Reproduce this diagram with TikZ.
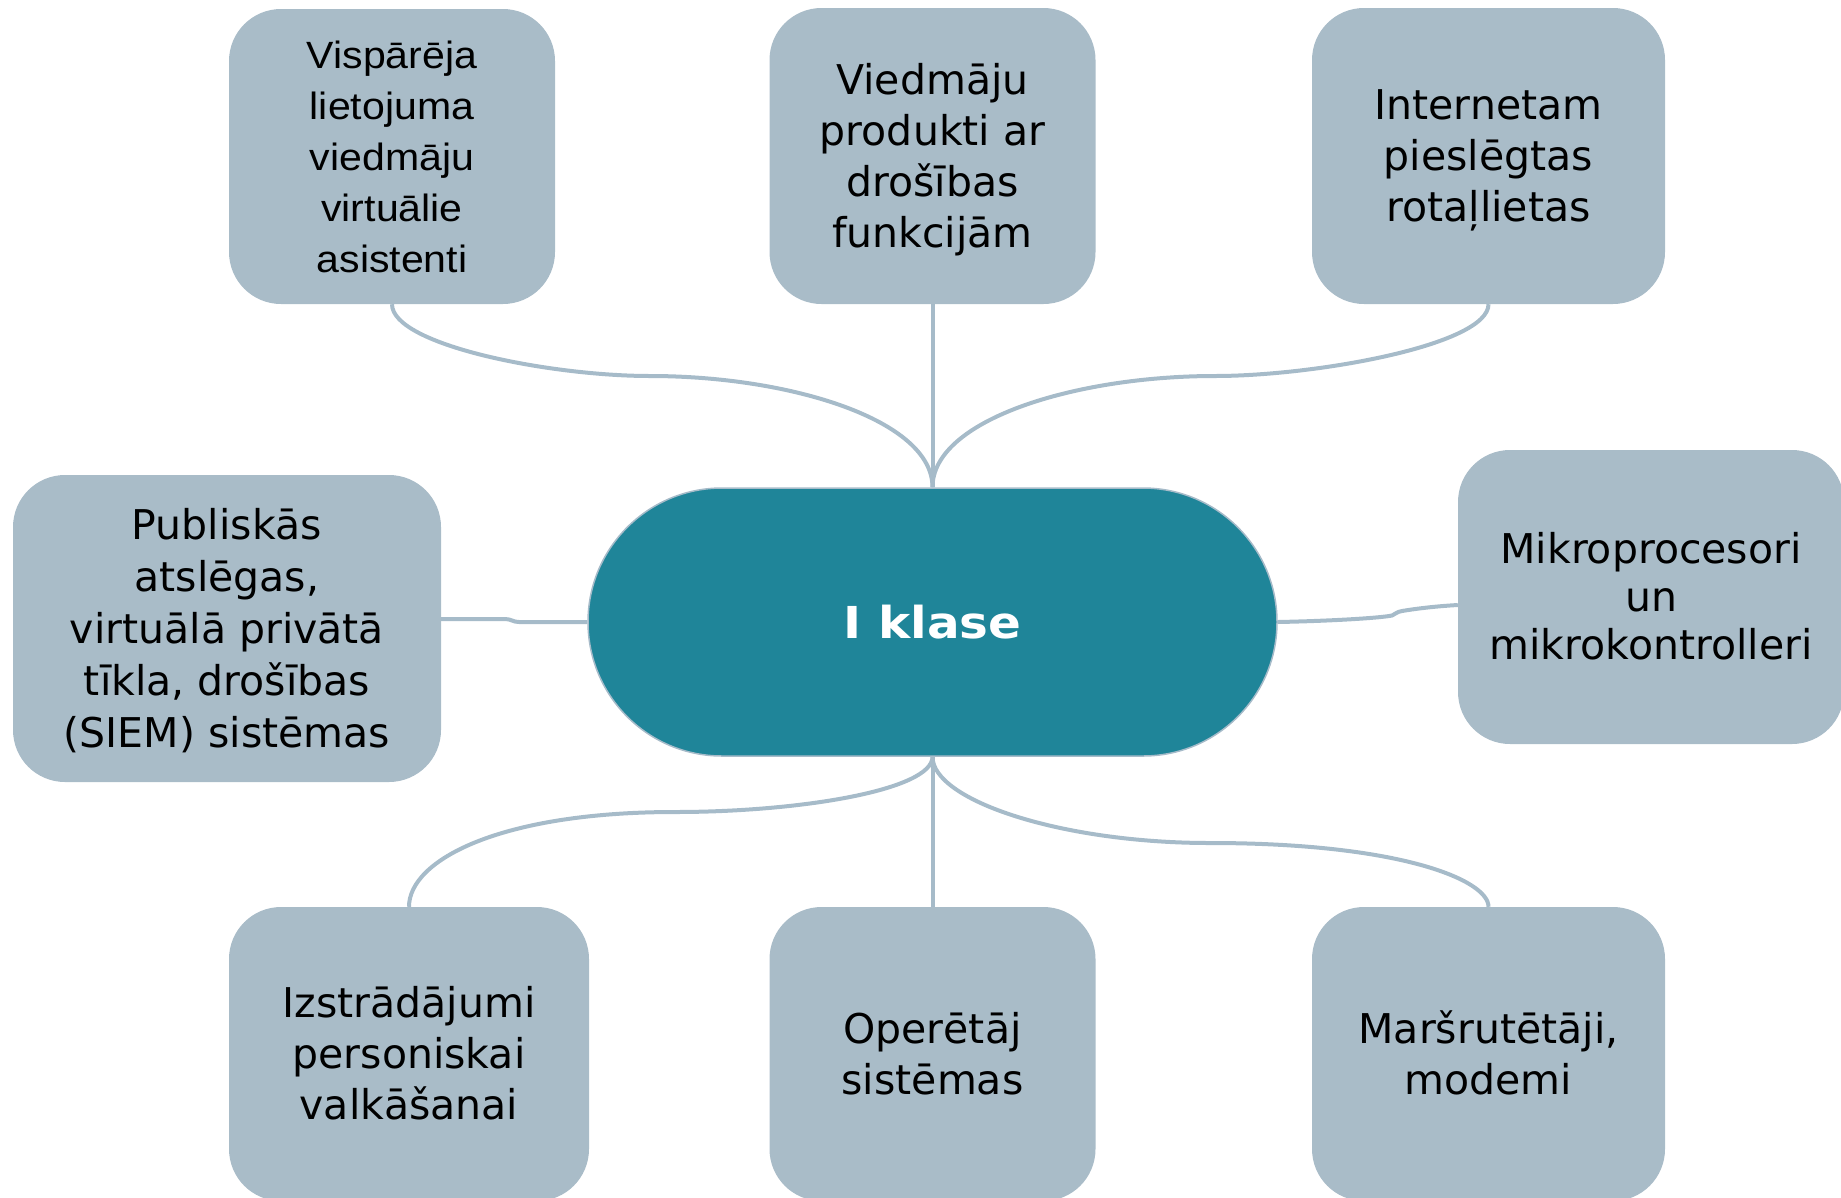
\documentclass[tikz,border=0pt]{standalone}
\usepackage{fontspec}
\usetikzlibrary{backgrounds}
\setmainfont{DejaVu Sans}
\newfontfamily\arialf{Liberation Sans}[FakeStretch=1.08]
\newfontfamily\titlef{DejaVu Sans}[FakeStretch=1.1]
\definecolor{boxc}{RGB}{169,188,200}
\definecolor{hubc}{RGB}{31,133,153}
\definecolor{linec}{RGB}{166,187,201}
% first line: height = cap height, last line: no depth
\newcommand{\firstln}[1]{\vrule height 0.73em depth 0pt width 0pt\smash{#1}}
\newcommand{\lastln}[1]{\smash{#1}}
\begin{document}
\begin{tikzpicture}[x=1pt,y=-1pt,
  leaf/.style={fill=boxc, rounded corners=52pt, inner sep=0pt, align=center,
    text=black, font={\fontsize{41}{51}\selectfont}},
  hub/.style={fill=hubc, draw=linec, line width=1.5pt, rounded corners=134pt,
    inner sep=0pt, text=white, font={\titlef\bfseries\fontsize{44}{50}\selectfont}},
  conn/.style={draw=linec, line width=4pt}]
\useasboundingbox (0,0) rectangle (1841,1197);
\clip (0,0) rectangle (1841,1197);

% nodes
\node[leaf, minimum width=326pt, minimum height=295pt,
  font={\arialf\fontsize{38}{51}\selectfont}] (tl) at (392,156.5)
  {\firstln{Vispārēja}\\lietojuma\\viedmāju\\virtuālie\\\lastln{asistenti}};
\node[leaf, minimum width=326pt, minimum height=296pt] (tm) at (932.5,156)
  {\firstln{Viedmāju}\\produkti ar\\drošības\\\lastln{funkcijām}};
\node[leaf, minimum width=353pt, minimum height=296pt] (tr) at (1488.5,156)
  {\firstln{Internetam}\\pieslēgtas\\\lastln{rotaļlietas}};
\node[leaf, minimum width=428pt, minimum height=307pt,
  font={\fontsize{41}{52}\selectfont}] (lf) at (227,628.5)
  {\firstln{Publiskās}\\atslēgas,\\virtuālā privātā\\tīkla, drošības\\\lastln{(SIEM) sistēmas}};
\node[hub, minimum width=689pt, minimum height=268pt] (hub) at (932.5,622) {I klase};
\node[leaf, minimum width=386pt, minimum height=294pt,
  font={\fontsize{41}{48}\selectfont}] (rt) at (1651,597)
  {\firstln{Mikroprocesori}\\un\\\lastln{mikrokontrolleri}};
\node[leaf, minimum width=360pt, minimum height=294pt] (bl) at (409,1054)
  {\firstln{Izstrādājumi}\\personiskai\\\lastln{valkāšanai}};
\node[leaf, minimum width=326pt, minimum height=294pt] (bm) at (932.5,1054)
  {\firstln{Operētāj}\\\lastln{sistēmas}};
\node[leaf, minimum width=353pt, minimum height=294pt] (br) at (1488.5,1054)
  {\firstln{Maršrutētāji,}\\\lastln{modemi}};

% connector waypoints
\coordinate (m1) at (650,376);
\coordinate (m3) at (1215,376);
\coordinate (m4) at (675,812);
\coordinate (m6) at (1210,843);

\begin{scope}[on background layer]
\draw[conn] (tl.south) .. controls (392,345) and (550,376) .. (m1)
  .. controls (790,376) and (932.5,420) .. (hub.north);
\draw[conn] (tm.south) -- (hub.north);
\draw[conn] (tr.south) .. controls (1488.5,345) and (1315,376) .. (m3)
  .. controls (1075,376) and (932.5,420) .. (hub.north);
\draw[conn] ([yshift=9.5pt]lf.east) -- (505,619) .. controls (511,619) and (513,622) .. (519,622) -- (hub.west);
\draw[conn] (hub.east) .. controls (1330,621) and (1380,618) .. (1392,615.5)
  .. controls (1396,614) and (1396,612) .. (1402,611)
  .. controls (1420,608) and (1440,606) .. ([yshift=-8pt]rt.west);
\draw[conn] (hub.south) .. controls (932.5,790) and (800,812) .. (m4)
  .. controls (500,812) and (409,860) .. (bl.north);
\draw[conn] (hub.south) -- (bm.north);
\draw[conn] (hub.south) .. controls (932.5,800) and (1060,843) .. (m6)
  .. controls (1400,843) and (1488.5,880) .. (br.north);
\end{scope}
\end{tikzpicture}
\end{document}
